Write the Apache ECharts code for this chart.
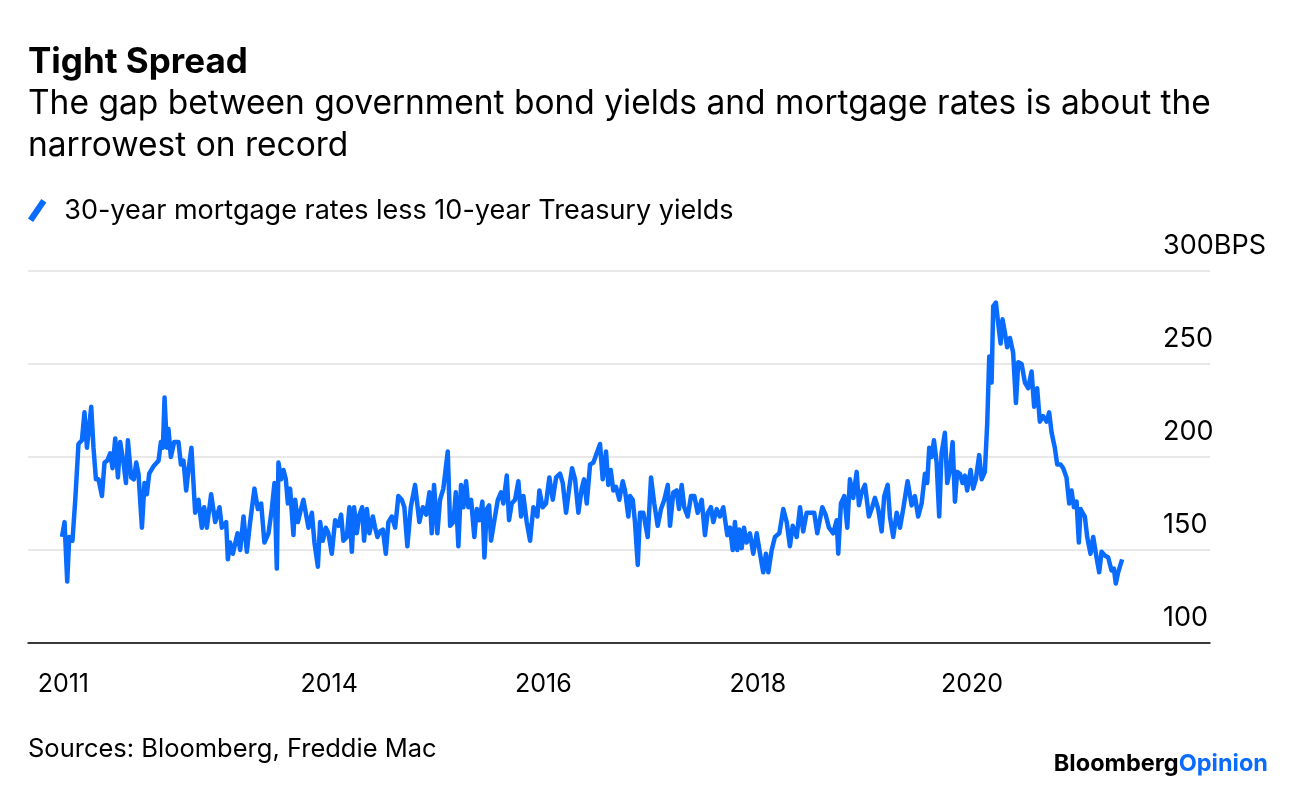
<!DOCTYPE html>
<html><head><meta charset="utf-8">
<script src="https://cdn.jsdelivr.net/npm/echarts@6/dist/echarts.min.js"></script>
<style>html,body{margin:0;padding:0;background:#fff}#c{width:1296px;height:790px}</style>
</head><body><div id="c"></div>
<script>
const weeks = [
2011.507,2011.531,2011.556,2011.575,2011.605,2011.631,2011.661,2011.693,2011.717,2011.740,2011.780,2011.801,2011.824,2011.848,2011.880,2011.904,2011.929,2011.957,2011.979,
2012.004,2012.029,2012.050,2012.081,2012.104,2012.122,2012.153,2012.178,2012.200,2012.221,2012.253,2012.277,2012.299,2012.321,2012.361,
2012.408,2012.430,2012.449,2012.464,2012.486,2012.501,2012.523,2012.554,2012.594,2012.617,2012.641,2012.666,2012.687,2012.715,2012.750,2012.781,2012.812,2012.834,2012.859,2012.899,2012.937,2012.977,2012.999,
2013.039,2013.055,2013.076,2013.102,2013.145,2013.170,2013.201,2013.232,2013.263,
2013.303,2013.335,2013.366,2013.396,2013.434,2013.465,2013.490,2013.512,2013.527,2013.552,2013.574,2013.596,2013.615,2013.636,2013.667,2013.683,2013.708,2013.729,2013.760,2013.807,2013.839,2013.863,2013.895,2013.916,2013.941,2013.969,2013.993,
2014.025,2014.056,2014.087,2014.112,2014.133,
2014.165,2014.189,2014.212,2014.233,2014.258,2014.283,2014.308,2014.326,2014.352,2014.376,2014.408,2014.429,2014.451,2014.476,2014.501,2014.529,2014.553,2014.585,2014.616,2014.646,2014.678,2014.702,2014.730,2014.762,2014.802,2014.842,2014.874,2014.905,2014.936,2014.958,2014.979,
2015.010,2015.035,2015.066,2015.107,2015.129,2015.160,2015.182,2015.206,2015.231,2015.253,2015.278,2015.299,2015.325,2015.355,2015.378,2015.402,2015.430,2015.449,2015.471,2015.493,2015.511,2015.542,2015.574,2015.604,2015.626,2015.658,2015.679,2015.704,2015.735,2015.766,2015.791,2015.813,2015.844,2015.875,2015.906,
2015.943,2015.962,2015.993,2016.024,2016.055,2016.087,2016.118,2016.155,2016.180,2016.211,2016.242,2016.267,2016.295,2016.326,2016.357,2016.379,2016.404,2016.435,2016.466,2016.497,2016.528,2016.553,2016.584,2016.605,2016.628,2016.652,2016.677,2016.708,2016.740,2016.761,2016.792,
2016.808,2016.833,2016.854,2016.880,2016.901,2016.932,2016.973,2017.004,2017.034,2017.066,2017.097,2017.128,2017.160,2017.181,2017.212,2017.243,2017.265,2017.290,2017.314,2017.346,2017.377,2017.408,2017.439,2017.477,2017.507,2017.533,2017.563,2017.585,2017.617,2017.647,2017.678,
2017.716,2017.741,2017.766,2017.787,2017.809,2017.827,2017.850,2017.871,2017.896,2017.927,2017.958,2017.990,2018.021,2018.051,2018.076,2018.098,2018.130,2018.160,2018.201,2018.238,2018.270,2018.300,2018.326,2018.363,2018.394,2018.424,2018.456,2018.493,2018.527,2018.555,
2018.602,2018.633,2018.664,2018.704,2018.736,2018.751,2018.776,2018.807,2018.835,2018.860,2018.891,2018.923,2018.944,2018.969,2019.000,2019.037,2019.068,2019.093,2019.124,2019.156,2019.180,2019.212,2019.233,2019.264,2019.296,2019.327,2019.357,2019.398,2019.436,
2019.466,2019.497,2019.529,2019.560,2019.581,2019.600,2019.622,2019.644,2019.669,2019.693,2019.715,2019.746,2019.768,2019.793,2019.818,2019.840,2019.861,2019.886,2019.911,2019.933,2019.954,2019.986,
2020.010,2020.035,2020.066,2020.089,2020.119,2020.141,2020.160,2020.182,2020.197,2020.222,2020.243,2020.266,2020.284,2020.306,2020.327,
2020.353,2020.383,2020.409,2020.431,2020.462,2020.493,2020.523,2020.555,2020.579,2020.607,2020.632,2020.663,2020.695,2020.719,2020.742,2020.772,2020.794,2020.826,2020.850,2020.881,2020.906,2020.928,2020.950,2020.975,2020.996,
2021.012,2021.052,2021.074,2021.105,2021.130,2021.161,2021.186,2021.208,2021.239,2021.270,2021.301,2021.323,2021.341,2021.363,2021.379,2021.400
];
// 30-year mortgage rate minus 10-year Treasury yield, basis points
const spreadBps = [
157,165,133,157,155,177,207,209,224,205,227,205,188,188,179,197,198,202,194,
210,189,208,197,186,209,189,188,197,191,162,186,180,191,195,
198,208,205,232,205,215,200,208,208,196,198,182,193,205,170,177,162,173,162,180,165,173,162,
165,145,154,148,159,150,168,149,165,
183,172,175,154,159,172,186,140,197,188,193,188,175,183,158,177,165,170,177,162,170,154,141,165,155,162,159,
148,166,163,169,155,
157,173,149,173,159,169,173,155,172,159,168,162,157,160,161,148,165,168,162,179,177,173,152,173,185,165,173,169,181,159,185,
159,177,183,203,163,165,181,152,185,173,187,173,177,157,172,166,176,146,172,174,155,166,177,181,175,190,166,175,177,187,168,179,165,155,173,
168,182,173,175,189,177,189,191,186,170,184,194,188,170,183,188,175,196,197,202,207,188,203,185,193,182,184,177,187,182,168,
179,177,165,142,170,170,157,189,175,163,172,177,185,163,181,182,172,185,173,168,179,179,170,177,158,170,173,165,172,168,173,
158,162,150,165,150,161,151,162,154,159,148,159,148,138,148,138,150,157,159,172,165,152,163,157,173,160,170,170,170,159,
173,169,162,159,166,148,175,179,162,188,178,192,174,181,185,168,173,178,172,160,179,185,168,157,170,162,172,187,174,
179,168,175,191,186,205,200,209,197,168,202,213,186,193,208,176,192,191,186,190,182,193,
183,188,201,188,192,218,254,240,281,283,272,261,274,267,259,
264,256,229,251,250,240,237,246,227,237,219,222,219,224,213,205,196,196,194,189,175,182,173,176,154,
172,168,157,148,157,146,138,149,147,146,139,140,132,138,137,145
];
const yTicks = [100, 150, 200, 250, 300];
const yearLabels = [2011.52, 2014, 2016, 2018, 2020];
const seriesName = '30-year mortgage rates less 10-year Treasury yields';

const FONT = 'Inter, "Liberation Sans", Arial, sans-serif';
const BLUE = '#0a6cff';
const chart = echarts.init(document.getElementById('c'), null, {renderer: 'canvas'});
chart.setOption({
  animation: false,
  backgroundColor: '#fff',
  title: {
    text: 'Tight Spread',
    subtext: 'The gap between government bond yields and mortgage rates is about the\nnarrowest on record',
    left: 28, top: 42, padding: 0, itemGap: 1,
    textStyle: {fontFamily: FONT, fontSize: 35, fontWeight: 'bold', color: '#000', lineHeight: 40},
    subtextStyle: {fontFamily: FONT, fontSize: 33.5, color: '#000', lineHeight: 42}
  },
  legend: {
    data: [seriesName],
    left: 28, top: 197, padding: 0,
    itemWidth: 20, itemHeight: 23,
    icon: 'path://M0,19 L13,0 L18,3.5 L5,22.5 Z',
    textStyle: {fontFamily: FONT, fontSize: 27, color: '#000', padding: [0, 0, 0, 12]}
  },
  grid: {left: 28, right: 86, top: 271, bottom: 147, containLabel: false},
  xAxis: {
    type: 'value', min: 2011.19, max: 2022.22,
    axisLine: {show: true, lineStyle: {color: '#000', width: 1.5}},
    axisTick: {show: false},
    splitLine: {show: false},
    axisLabel: {
      customValues: yearLabels,
      formatter: v => String(Math.floor(v)),
      fontFamily: FONT, fontSize: 25, color: '#000', margin: 29
    }
  },
  yAxis: {
    type: 'value', position: 'right', min: yTicks[0], max: yTicks[yTicks.length - 1], interval: 50,
    axisLine: {show: false}, axisTick: {show: false},
    splitLine: {show: true, lineStyle: {color: '#e8e8e8', width: 2}},
    axisLabel: {
      inside: true, align: 'left', margin: 47, verticalAlign: 'bottom',
      padding: [0, 0, 12, 0],
      formatter: v => (v === 300 ? v + 'BPS' : String(v)),
      fontFamily: FONT, fontSize: 27, color: '#000'
    }
  },
  series: [{
    name: seriesName, type: 'line', showSymbol: false, symbol: 'none',
    data: weeks.map((w, i) => [w, spreadBps[i]]),
    lineStyle: {color: BLUE, width: 4.5, join: 'round'},
    itemStyle: {color: BLUE}
  }],
  graphic: [
    {type: 'text', left: 28, top: 736, style: {text: 'Sources: Bloomberg, Freddie Mac', font: '25.5px ' + FONT, fill: '#000'}},
    {type: 'text', right: 28, top: 752, style: {
      text: '{a|Bloomberg}{b|Opinion}',
      rich: {
        a: {fontFamily: FONT, fontSize: 23.5, fontWeight: 'bold', fill: '#000', color: '#000'},
        b: {fontFamily: FONT, fontSize: 23.5, fontWeight: 'bold', fill: BLUE, color: BLUE}
      }
    }}
  ]
});
</script></body></html>
